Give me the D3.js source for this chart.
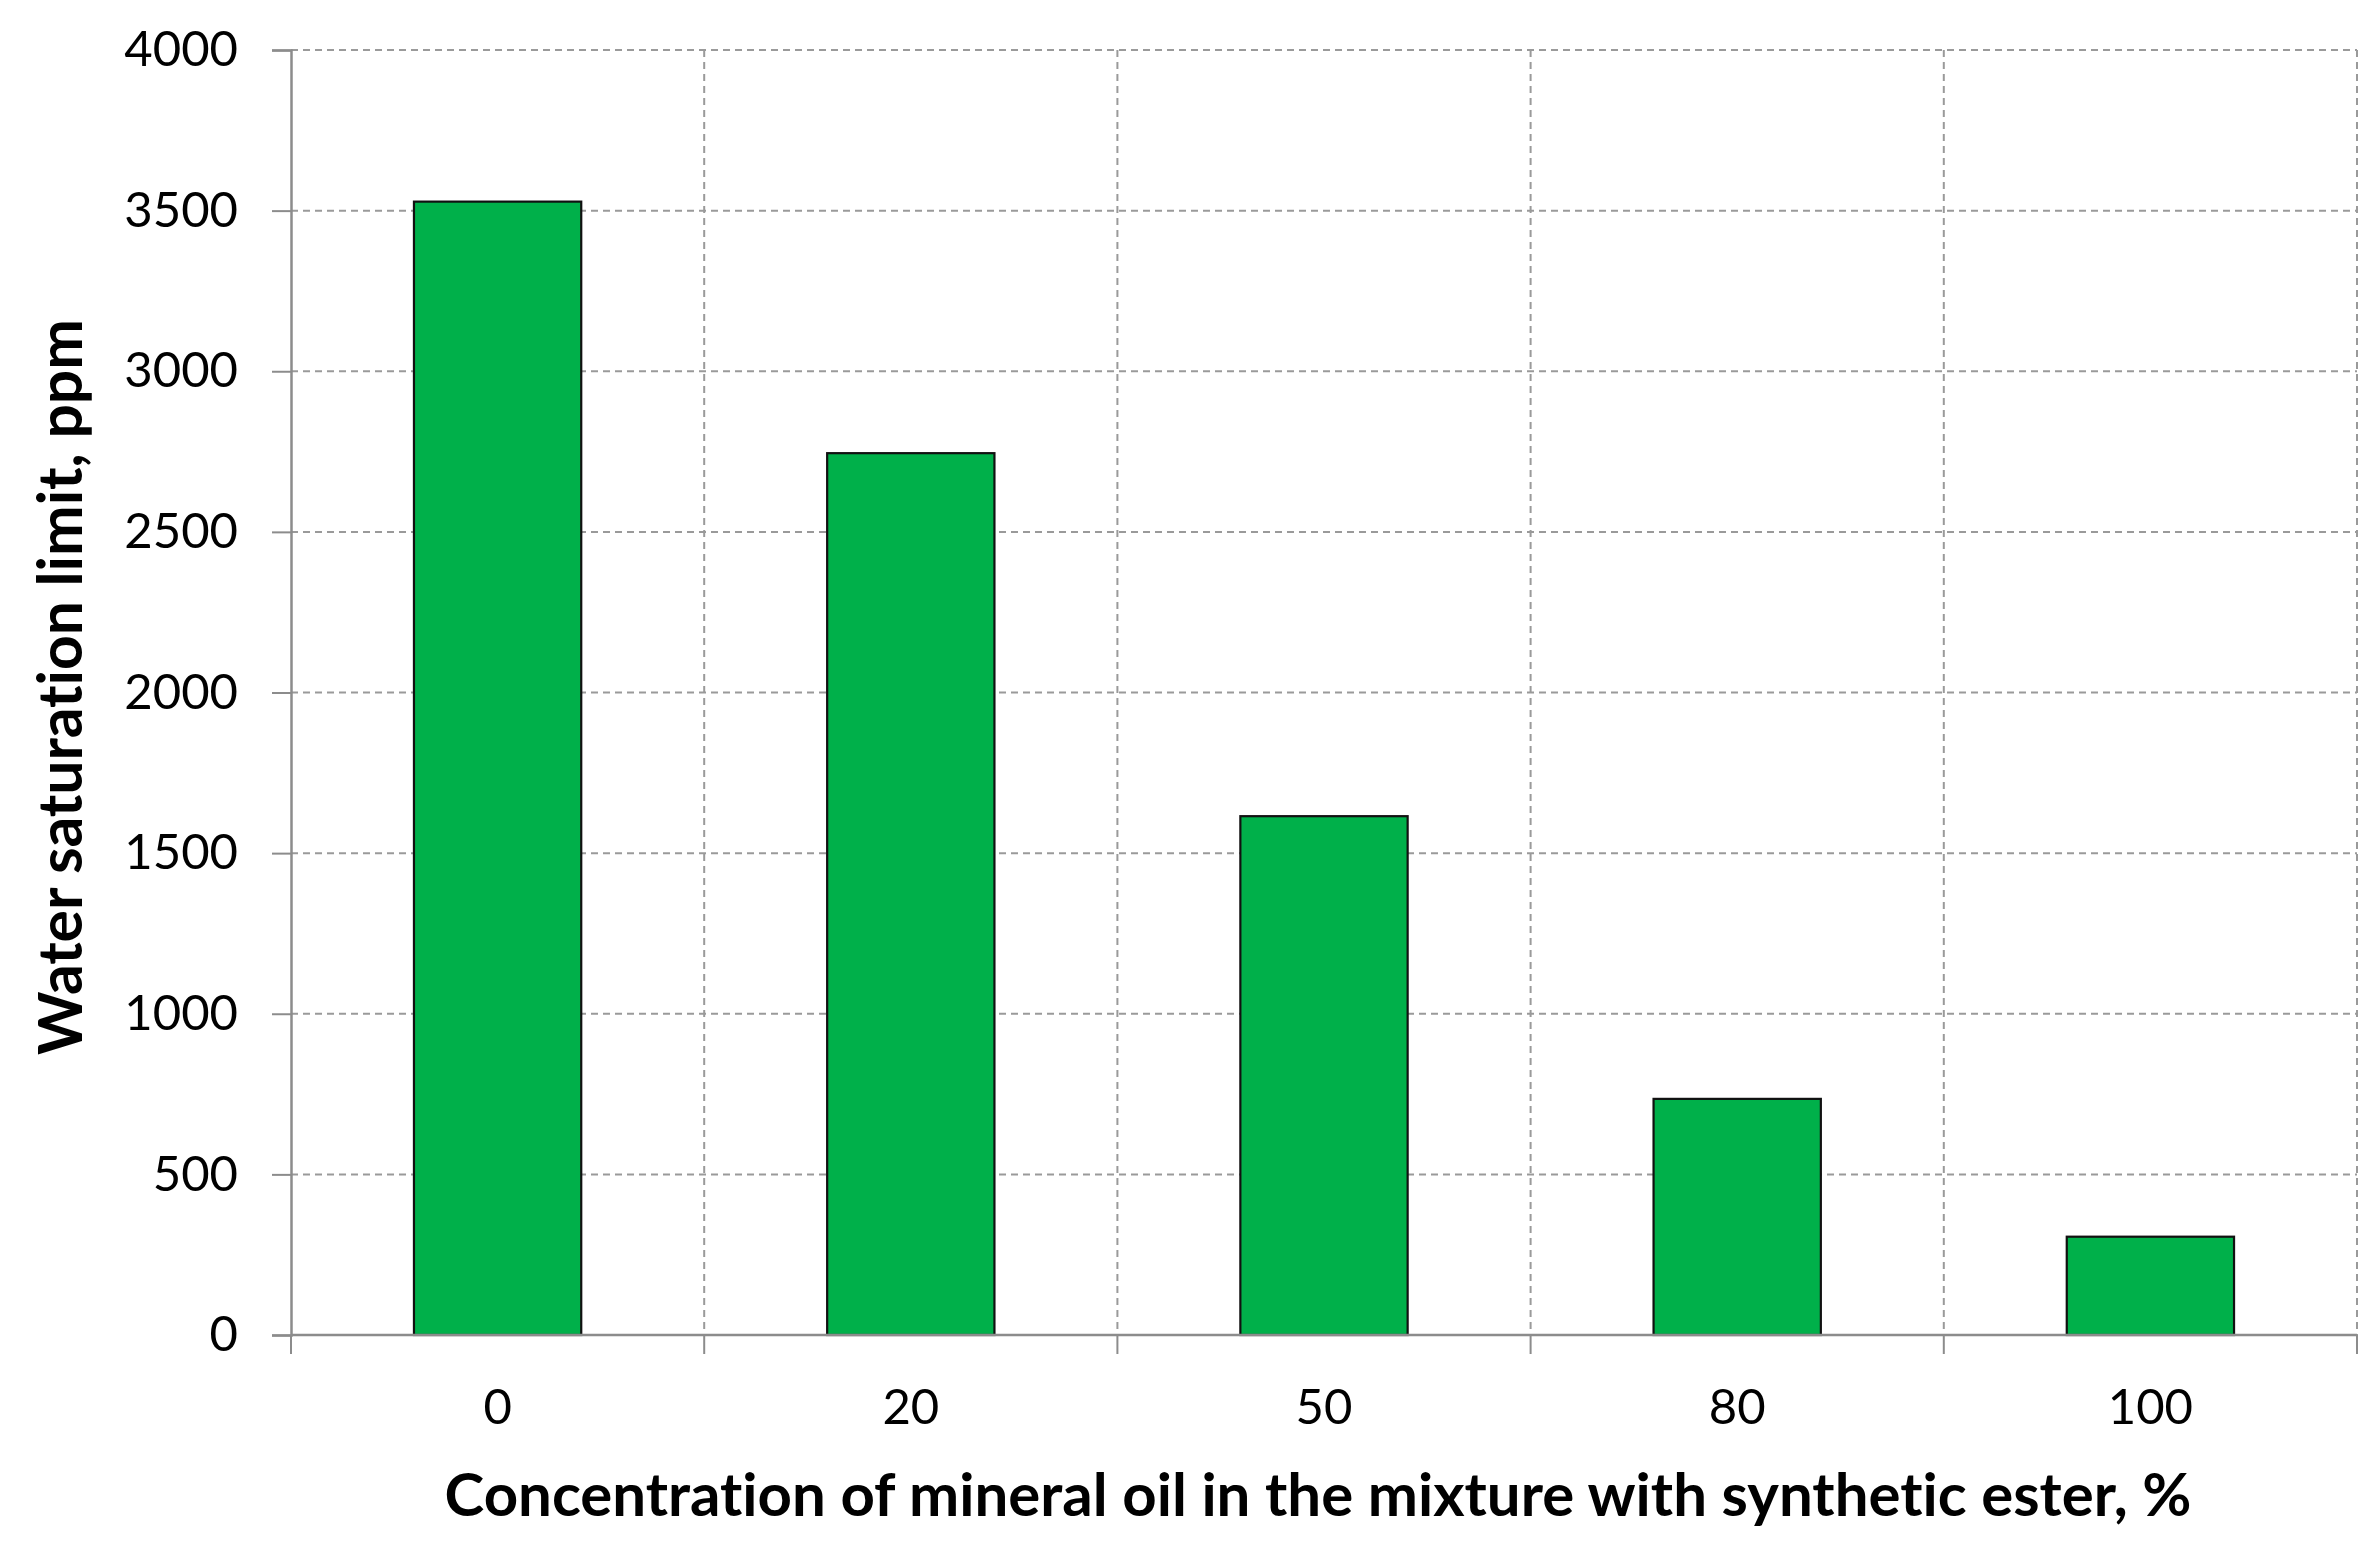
<!DOCTYPE html>
<html>
<head>
<meta charset="utf-8">
<script src="https://cdn.jsdelivr.net/npm/d3@7"></script>
<style>
  html, body { margin: 0; padding: 0; background: #fff; }
  svg { display: block; }
  text { font-family: Lato, "Open Sans", sans-serif; fill: #000; font-variant-ligatures: none; font-feature-settings: "liga" 0, "clig" 0; }
</style>
</head>
<body>
<svg id="chart" width="2380" height="1550"></svg>
<script>
const categories = ["0", "20", "50", "80", "100"];
const values = [3528, 2745, 1615, 735, 306];
const yTicks = [0, 500, 1000, 1500, 2000, 2500, 3000, 3500, 4000];
const xTitle = "Concentration of mineral oil in the mixture with synthetic ester, %";
const yTitle = "Water saturation limit, ppm";

(function () {
const svg = d3.select("#chart");
const pL = 291, pR = 2357, pT = 50, pB = 1335;

const x = d3.scaleBand().domain(categories).range([pL, pR]).paddingInner(0).paddingOuter(0);
const y = d3.scaleLinear().domain([0, 4000]).range([pB, pT]);

const gridColor = "#9a9a9a";
const axisColor = "#8c8c8c";

// horizontal gridlines
svg.append("g").selectAll("line").data(yTicks.filter(d => d > 0)).join("line")
  .attr("x1", pL).attr("x2", pR)
  .attr("y1", d => y(d)).attr("y2", d => y(d))
  .attr("stroke", gridColor).attr("stroke-width", 2).attr("stroke-dasharray", "7,5");

// vertical gridlines at category boundaries
const boundaries = categories.map(c => x(c)).slice(1).concat([pR]);
svg.append("g").selectAll("line").data(boundaries).join("line")
  .attr("x1", d => d).attr("x2", d => d)
  .attr("y1", pT).attr("y2", pB)
  .attr("stroke", gridColor).attr("stroke-width", 2).attr("stroke-dasharray", "7,5");

// bars
const barW = x.bandwidth() / 2.47;
svg.append("g").selectAll("rect").data(values).join("rect")
  .attr("x", (d, i) => x(categories[i]) + x.bandwidth() / 2 - barW / 2)
  .attr("width", barW)
  .attr("y", d => y(d))
  .attr("height", d => pB - y(d))
  .attr("fill", "#00B04A")
  .attr("stroke", "#111").attr("stroke-width", 2.2);

// y axis
const yAxis = d3.axisLeft(y).tickValues(yTicks).tickFormat(d3.format("d")).tickSize(19).tickPadding(34);
const gy = svg.append("g").attr("transform", `translate(${pL},0)`).call(yAxis);
gy.select(".domain").attr("stroke", axisColor).attr("stroke-width", 2.5);
gy.selectAll(".tick line").attr("stroke", axisColor).attr("stroke-width", 2);
gy.selectAll(".tick text").style("font-size", "49px").style("font-family", "Lato, sans-serif").attr("fill", "#000");

// x axis: domain line + ticks at boundaries
const gx = svg.append("g");
gx.append("line").attr("x1", pL).attr("x2", pR).attr("y1", pB).attr("y2", pB)
  .attr("stroke", axisColor).attr("stroke-width", 2.5);
gx.selectAll("line.t").data([pL].concat(boundaries)).join("line").attr("class", "t")
  .attr("x1", d => d).attr("x2", d => d).attr("y1", pB).attr("y2", pB + 19)
  .attr("stroke", axisColor).attr("stroke-width", 2);
gx.selectAll("text").data(categories).join("text")
  .attr("x", d => x(d) + x.bandwidth() / 2)
  .attr("y", 1424)
  .attr("text-anchor", "middle")
  .style("font-size", "49px")
  .text(d => d);

// titles
function fit(sel, target) {
  const w = sel.node().getComputedTextLength();
  const fs = parseFloat(sel.style("font-size"));
  sel.style("font-size", (fs * target / w) + "px");
}
const xt = svg.append("text")
  .attr("x", 1318).attr("y", 1516)
  .attr("text-anchor", "middle")
  .style("font-size", "52px").style("font-weight", "bold")
  .text(xTitle);
fit(xt, 1747);

const yt = svg.append("text")
  .attr("transform", "translate(58,687) rotate(-90)")
  .attr("text-anchor", "middle")
  .attr("dominant-baseline", "central")
  .style("font-size", "52px").style("font-weight", "bold")
  .text(yTitle);
fit(yt, 736);
})();
</script>
</body>
</html>
